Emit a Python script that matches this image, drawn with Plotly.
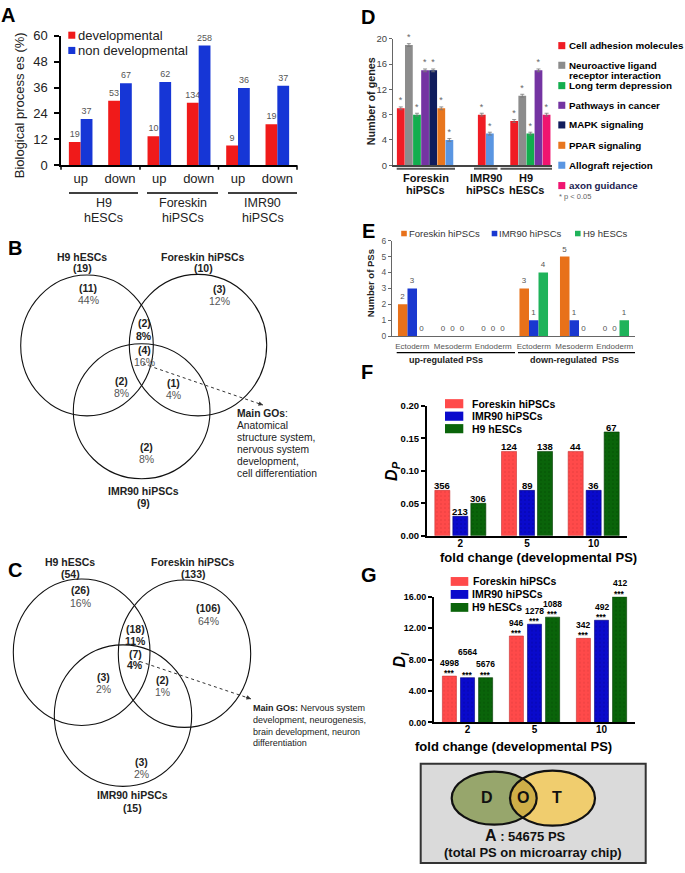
import numpy as np
import plotly.graph_objects as go

W, H = 685, 873
FONT = "Liberation Sans, Arial, Helvetica, sans-serif"

# ======================= DATA =======================
# Panel A
A_cells = ["H9 hESCs", "Foreskin hiPSCs", "IMR90 hiPSCs"]
A_dirs = ["up", "down"]
A_series = ["developmental", "non developmental"]
A_dev_pct = [10.8, 29.9, 13.4, 29.0, 9.1, 19.0]
A_nondev_pct = [21.4, 38.0, 38.6, 55.5, 35.8, 36.8]
A_dev_n = [19, 53, 10, 134, 9, 19]
A_nondev_n = [37, 67, 62, 258, 36, 37]
A_yticks = [0, 12, 24, 36, 48, 60]

# Panel D
D_groups = ["Foreskin hiPSCs", "IMR90 hiPSCs", "H9 hESCs"]
D_pathways = ["Cell adhesion molecules", "Neuroactive ligand receptor interaction",
              "Long term depression", "Pathways in cancer", "MAPK signaling",
              "PPAR signaling", "Allograft rejection", "axon guidance"]
D_genes = [
    [9, 8, 7],
    [19, None, 11],
    [8, None, 5],
    [15, None, 15],
    [15, None, None],
    [9, None, None],
    [4, 5, None],
    [None, None, 8],
]
D_yticks = [0, 4, 8, 12, 16, 20]
D_note = "* p < 0.05"

# Panel E
E_regulation = ["up-regulated PSs", "down-regulated  PSs"]
E_layers = ["Ectoderm", "Mesoderm", "Endoderm"]
E_series = ["Foreskin hiPSCs", "IMR90 hiPSCs", "H9 hESCs"]
E_counts = [
    [2, 0, 0, 3, 5, 0],
    [3, 0, 0, 1, 1, 0],
    [0, 0, 0, 4, 0, 1],
]
E_yticks = [0, 1, 2, 3, 4, 5, 6]

# Panels F and G
FG_series = ["Foreskin hiPSCs", "IMR90 hiPSCs", "H9 hESCs"]
FG_fold = ["2", "5", "10"]
F_dp = [[0.07, 0.13, 0.13], [0.03, 0.07, 0.07], [0.05, 0.13, 0.16]]
F_n = [[356, 124, 44], [213, 89, 36], [306, 138, 67]]
F_yticks = [0.0, 0.05, 0.10, 0.15, 0.20]
G_di = [[5.9, 11.0, 10.7], [5.7, 12.5, 13.0], [5.7, 13.4, 16.0]]
G_n = [[4998, 946, 342], [6564, 1278, 492], [5676, 1088, 412]]
G_sig = "***"
G_yticks = [0, 4, 8, 12, 16]
FG_xtitle = "fold change (developmental PS)"

# Venn B / C
V_sets = ["H9 hESCs", "Foreskin hiPSCs", "IMR90 hiPSCs"]
B_totals = [19, 10, 9]
B_counts = [11, 3, 2, 4, 2, 1, 2]
B_pcts = [44, 12, 8, 16, 8, 4, 8]
B_gos = ["<b>Main GOs</b>:", "Anatomical", "structure system,", "nervous system",
         "development,", "cell differentiation"]
C_totals = [54, 133, 15]
C_counts = [26, 106, 18, 7, 3, 2, 3]
C_pcts = [16, 64, 11, 4, 2, 1, 2]
C_gos = ["<b>Main GOs:</b> Nervous system", "development, neurogenesis,",
         "brain development, neuron", "differentiation"]

# Box
BOX_letters = ["D", "O", "T"]
BOX_total = "54675 PS"
BOX_note = "(total PS on microarray chip)"

# ======================= STYLE =======================
A_colors = ["#f01a1a", "#1636d6"]
D_colors = ["#f01c24", "#8c8c8c", "#12ae4e", "#7434a2", "#101c5c",
            "#e8761e", "#5a96e2", "#f01470"]
E_colors = ["#e8711a", "#1a38d0", "#1fb35a"]
FG_colors = ["#ff4a4a", "#0a0acc", "#0a640a"]
FG_dots = ["#c83030", "#00007a", "#003a00"]
G_label_lift = [[0, 0, 0], [12, 0, 0], [0, 0, 0]]   # px, label placement only


def X(px):
    return px / W


def Y(py):
    return 1 - py / H


shapes = []
annotations = []


def txt(x, y, s, size, color="#000", bold=False, xanchor="center",
        yanchor="middle", angle=0):
    if bold:
        s = f"<b>{s}</b>"
    annotations.append(dict(x=X(x), y=Y(y), xref="paper", yref="paper", text=s,
                            showarrow=False, textangle=angle,
                            font=dict(size=size, color=color, family=FONT),
                            xanchor=xanchor, yanchor=yanchor, borderpad=0))


def line(x0, y0, x1, y1, color="#000", width=1.0, dash=None):
    d = dict(type="line", xref="paper", yref="paper", x0=X(x0), y0=Y(y0),
             x1=X(x1), y1=Y(y1), line=dict(color=color, width=width))
    if dash:
        d["line"]["dash"] = dash
    shapes.append(d)


def rect(x0, y0, x1, y1, fill, lc=None, lw=0):
    shapes.append(dict(type="rect", xref="paper", yref="paper", x0=X(x0), y0=Y(y1),
                       x1=X(x1), y1=Y(y0), fillcolor=fill,
                       line=dict(color=lc or fill, width=lw)))


def oval(x0, y0, x1, y1, fill="rgba(0,0,0,0)", lc="#000", lw=1.0):
    shapes.append(dict(type="circle", xref="paper", yref="paper", x0=X(x0), y0=Y(y1),
                       x1=X(x1), y1=Y(y0), fillcolor=fill,
                       line=dict(color=lc, width=lw)))


def bar_label(xa, ya, cat_index, val, text, xshift, yshift, size):
    # on a category axis, annotation x is the category's serial number
    annotations.append(dict(x=cat_index, y=val, xref=xa, yref=ya, text=f"<b>{text}</b>",
                            showarrow=False, xshift=xshift, yshift=yshift,
                            xanchor="center", yanchor="middle", borderpad=0,
                            font=dict(size=size, color="#000", family=FONT)))


fig = go.Figure()

# ======================= PANEL A =======================
A_ids = [f"{c}|{d}" for c in A_cells for d in A_dirs]
A_tt = [d for c in A_cells for d in A_dirs]
for name, vals, ns, col, off in zip(A_series, [A_dev_pct, A_nondev_pct],
                                    [A_dev_n, A_nondev_n], A_colors, [-0.3, 0.0]):
    fig.add_trace(go.Bar(x=A_ids, y=vals, name=name, width=0.3, offset=off,
                         marker=dict(color=col, line=dict(width=0)),
                         text=[str(n) for n in ns], textposition="outside",
                         textfont=dict(size=9, color="#555", family=FONT),
                         constraintext="none", cliponaxis=False,
                         xaxis="x", yaxis="y", showlegend=False))

# ======================= PANEL D =======================
D_cats = []
gaps = [3, 2, 0]
for gi, g in enumerate(D_groups):
    for pi, p in enumerate(D_pathways):
        if D_genes[pi][gi] is not None:
            D_cats.append(f"{g}|{p}")
    for k in range(gaps[gi]):
        D_cats.append(f"gap{gi}{k}")
for pi, p in enumerate(D_pathways):
    xs = [f"{g}|{p}" for gi, g in enumerate(D_groups) if D_genes[pi][gi] is not None]
    ys = [v for v in D_genes[pi] if v is not None]
    fig.add_trace(go.Bar(x=xs, y=ys, name=p, width=0.96, offset=-0.48,
                         marker=dict(color=D_colors[pi], line=dict(width=0)),
                         error_y=dict(type="constant", value=0.22, color="#777",
                                      thickness=0.8, width=2),
                         text=["*"] * len(ys), textposition="outside",
                         textfont=dict(size=9, color="#666", family=FONT),
                         constraintext="none", cliponaxis=False,
                         xaxis="x2", yaxis="y2", showlegend=False))

# ======================= PANEL E =======================
E_ids = [f"{r}|{l}" for r in E_regulation for l in E_layers]
E_tt = [l for r in E_regulation for l in E_layers]
for si, s in enumerate(E_series):
    fig.add_trace(go.Bar(x=E_ids, y=E_counts[si], name=s, width=0.235,
                         offset=-0.3525 + 0.235 * si,
                         marker=dict(color=E_colors[si], line=dict(width=0)),
                         text=[str(v) for v in E_counts[si]], textposition="outside",
                         textfont=dict(size=8, color="#555", family=FONT),
                         constraintext="none", cliponaxis=False,
                         xaxis="x3", yaxis="y3", showlegend=False))

# ======================= PANEL F =======================
F_catpx = (627 - 427) / 3
for si, s in enumerate(FG_series):
    fig.add_trace(go.Bar(x=FG_fold, y=F_dp[si], name=s, width=0.225,
                         offset=-0.3825 + 0.27 * si,
                         marker=dict(color=FG_colors[si], line=dict(width=0.6, color=FG_dots[si]),
                                     pattern=dict(shape=".", size=4, solidity=0.12,
                                                  fgcolor=FG_dots[si], fillmode="overlay")),
                         xaxis="x4", yaxis="y4", showlegend=False))
    for ci in range(len(FG_fold)):
        bar_label("x4", "y4", ci, F_dp[si][ci], F_n[si][ci],
                  (-0.27 + 0.27 * si) * F_catpx, 4.5, 9.5)

# ======================= PANEL G =======================
G_catpx = (635 - 434) / 3
for si, s in enumerate(FG_series):
    fig.add_trace(go.Bar(x=FG_fold, y=G_di[si], name=s, width=0.21,
                         offset=-0.375 + 0.27 * si,
                         marker=dict(color=FG_colors[si], line=dict(width=0.6, color=FG_dots[si]),
                                     pattern=dict(shape=".", size=4, solidity=0.12,
                                                  fgcolor=FG_dots[si], fillmode="overlay")),
                         xaxis="x5", yaxis="y5", showlegend=False))
    for ci in range(len(FG_fold)):
        xs_ = (-0.27 + 0.27 * si) * G_catpx
        bar_label("x5", "y5", ci, G_di[si][ci], G_sig, xs_, 3, 8.5)
        bar_label("x5", "y5", ci, G_di[si][ci], G_n[si][ci], xs_,
                  13.5 + G_label_lift[si][ci], 8.5)

# ======================= DECORATIONS =======================
# panel letters
for L, (lx, ly) in zip("ABCDEFG", [(8, 8), (15, 245), (15, 573), (368, 10),
                                   (368, 228), (367, 371), (369, 578)]):
    txt(lx, ly, L, 20, bold=True)

# ---- A
txt(19, 100, "Biological process es (%)", 13, color="#222", angle=-90)
for (x0, x1), c in zip([(69, 138), (147, 218), (228, 297)], A_cells):
    line(x0, 189.3, x1, 189.3, width=1.6)
    a, b = c.split(" ")
    txt((x0 + x1) / 2, 199.6, a, 12.5, color="#222")
    txt((x0 + x1) / 2, 214.6, b, 12.5, color="#222")
for tx in [61, 140, 218.5, 297]:
    line(tx, 161, tx, 165.5, width=1.5)
for i, (s, c) in enumerate(zip(A_series, A_colors)):
    yy = 28.7 + 15.5 * i
    rect(68.3, yy - 3.6, 75.3, yy + 3.6, c)
    txt(77, yy, s, 13, color="#222", xanchor="left")

# ---- D
txt(371, 96, "Number of genes", 10.8, color="#222", bold=True, angle=-90)
for (x0, x1), g in zip([(396.7, 455), (474, 497.5), (500.5, 552)], D_groups):
    line(x0, 164.5, x1, 164.5, color="#555", width=2)
    a, b = g.split(" ")
    txt((x0 + x1) / 2, 173.5, a, 11, color="#111", bold=True)
    txt((x0 + x1) / 2, 186, b, 11, color="#111", bold=True)
legy = [39.3, 59.3, 80, 100, 120, 140.7, 161, 181.7]
for p, c, yy in zip(D_pathways, D_colors, legy):
    rect(558.3, yy - 3.6, 565.3, yy + 3.6, c)
    if p.startswith("Neuroactive"):
        txt(567.5, yy, "Neuroactive ligand", 9.8, bold=True, xanchor="left")
        txt(567.5, yy + 10.7, "receptor interaction", 9.8, bold=True, xanchor="left")
    else:
        txt(567.5, yy, p, 9.8, bold=True, xanchor="left",
            color="#1c1c50" if p == "axon guidance" else "#000")
txt(558, 193, D_note, 7.5, color="#666", xanchor="left")

# ---- E
txt(370, 281, "Number of PSs", 9.5, color="#222", bold=True, angle=-90)
for s, c, (sx, tx) in zip(E_series, E_colors, [(401.2, 408.3), (491.7, 498.3), (575, 581.7)]):
    rect(sx, 227.7, sx + 5.6, 233.3, c)
    txt(tx, 230.7, s, 9.5, color="#333", xanchor="left")
for (x0, x1), r in zip([(396.7, 515), (518, 635)], E_regulation):
    line(x0, 351.7, x1, 351.7, width=1.4)
    txt((x0 + x1) / 2 - 10 if r.startswith("up") else (x0 + x1) / 2 - 2.5, 359.5, r, 9,
        color="#222", bold=True)

# ---- F
txt(392.5, 472.5, "<b><i>D</i></b><sub><b><i>P</i></b></sub>", 16, angle=-90)
for si, (s, c) in enumerate(zip(FG_series, FG_colors)):
    y0 = 399 + 12.7 * si
    rect(445, y0, 463.3, y0 + 9.3, c)
    txt(470.7, y0 + 4.7, s, 10.5, bold=True, xanchor="left")
txt(538, 560, FG_xtitle, 13, bold=True)

# ---- G
txt(400.8, 664, "<b><i>D</i></b><sub><b><i>I</i></b></sub>", 16, angle=-90)
for si, (s, c) in enumerate(zip(FG_series, FG_colors)):
    y0 = 580 + 13.2 * si
    rect(450.7, y0, 468.3, y0 + 9, c)
    txt(471.5, y0 + 4.5, s, 10.5, bold=True, xanchor="left")
txt(513, 752, FG_xtitle, 13, bold=True)


# ---- Venn diagrams
def venn(circles, set_pos, totals, reg_pos, counts, pcts, pct_bold, arrow, gos, gos_x,
         gos_y, gos_size):
    for c in circles:
        oval(*c, lc="#111", lw=1.1)
    for (x, y1, y2), nm, t in zip(set_pos, V_sets, totals):
        txt(x, y1, nm, 10.5, color="#222", bold=True)
        txt(x, y2, f"({t})", 10.5, color="#222", bold=True)
    for (x, y1, y2), n, p, pb in zip(reg_pos, counts, pcts, pct_bold):
        txt(x, y1, f"({n})", 10.5, color="#222", bold=True)
        txt(x, y2, f"{p}%", 10.5, color="#222" if pb else "#555", bold=pb)
    (ax0, ay0), (ax1, ay1) = arrow
    line(ax0, ay0, ax1, ay1, color="#333", width=1, dash="dot")
    d = np.hypot(ax1 - ax0, ay1 - ay0)
    annotations.append(dict(x=X(ax1), y=Y(ay1), xref="paper", yref="paper", text="",
                            showarrow=True, arrowhead=2, arrowsize=0.9, arrowwidth=1,
                            arrowcolor="#333", ax=-(ax1 - ax0) / d * 7,
                            ay=-(ay1 - ay0) / d * 7))
    for gtxt, gy in zip(gos, gos_y):
        txt(gos_x, gy, gtxt, gos_size, color="#222", xanchor="left")


venn([(20.7, 272.7, 153.3, 416), (129.3, 272, 266.7, 416), (73.3, 342.7, 210, 480)],
     [(82, 254, 266), (203, 254, 266), (143, 492.5, 505)], B_totals,
     [(88, 286, 298), (219, 287, 299), (144, 322, 335), (144, 349.5, 361),
      (121, 381, 392.5), (174, 383, 395), (146, 448, 460)],
     B_counts, B_pcts, [False, False, True, False, False, False, False],
     [(143, 363), (263, 405)], B_gos, 236, [413.3, 426, 438.3, 450.7, 462.7, 475], 10.3)

venn([(13.3, 582, 150, 731), (118.3, 583, 250.7, 733), (54.3, 649, 191.7, 793)],
     [(70, 565, 577), (193, 565, 577), (132, 802, 815)], C_totals,
     [(80, 593, 606), (208, 612, 625), (135, 633, 645), (135, 658, 670),
      (103, 682, 694), (162, 685, 697), (141, 768, 780)],
     C_counts, C_pcts, [False, False, True, True, False, False, False],
     [(140, 666), (251, 704)], C_gos, 251.7, [713, 725.7, 737.7, 749.3], 9)

# ---- D/O/T box
rect(420.7, 770, 645.7, 871, "#dadada", lc="#333", lw=2)
eD = (494.2, 805, 42.5, 27)
eT = (552.5, 805, 42.5, 28)
oval(eD[0] - eD[2], eD[1] - eD[3], eD[0] + eD[2], eD[1] + eD[3], fill="#97a66c", lw=0, lc="rgba(0,0,0,0)")
oval(eT[0] - eT[2], eT[1] - eT[3], eT[0] + eT[2], eT[1] + eT[3], fill="#f0cd6e", lw=0, lc="rgba(0,0,0,0)")


def inside(e, x, y):
    return ((x - e[0]) / e[2]) ** 2 + ((y - e[1]) / e[3]) ** 2 <= 1.0


t1 = np.linspace(-np.pi / 2, np.pi / 2, 240)
p1x, p1y = eD[0] + eD[2] * np.cos(t1), eD[1] + eD[3] * np.sin(t1)
m1 = inside(eT, p1x, p1y)
t2 = np.linspace(np.pi / 2, 3 * np.pi / 2, 240)
p2x, p2y = eT[0] + eT[2] * np.cos(t2), eT[1] + eT[3] * np.sin(t2)
m2 = inside(eD, p2x, p2y)
pts = list(zip(p1x[m1], p1y[m1])) + list(zip(p2x[m2], p2y[m2]))
path = "M " + " L ".join(f"{X(px):.5f},{Y(py):.5f}" for px, py in pts) + " Z"
shapes.append(dict(type="path", xref="paper", yref="paper", path=path,
                   fillcolor="#cfae48", line=dict(width=0)))
oval(eD[0] - eD[2], eD[1] - eD[3], eD[0] + eD[2], eD[1] + eD[3], lc="#111", lw=2.2)
oval(eT[0] - eT[2], eT[1] - eT[3], eT[0] + eT[2], eT[1] + eT[3], lc="#111", lw=2.2)
for L, lx in zip(BOX_letters, [487.3, 523.3, 556.7]):
    txt(lx, 804.5, L, 16, bold=True, color="#111")
txt(525.7, 843.3, f"<span style='font-size:16px'>A</span> : {BOX_total}", 13, bold=True, color="#111")
txt(533.3, 860, BOX_note, 13, bold=True, color="#111")

# ======================= LAYOUT =======================
base = dict(showgrid=False, zeroline=False, fixedrange=True)
fig.update_layout(
    width=W, height=H, autosize=False,
    margin=dict(l=0, r=0, t=0, b=0),
    paper_bgcolor="white", plot_bgcolor="white",
    font=dict(family=FONT, color="#222"),
    barmode="overlay", showlegend=False,
    xaxis=dict(base, domain=[X(61), X(297)], anchor="y", type="category",
               categoryorder="array", categoryarray=A_ids, tickvals=A_ids, ticktext=A_tt,
               range=[-0.5, 5.5], showline=True, linecolor="#000", linewidth=2, ticks="",
               tickfont=dict(size=13, color="#222", family=FONT), ticklabelstandoff=0),
    yaxis=dict(base, domain=[Y(161), Y(29.3)], anchor="x", range=[0, 60], tickvals=A_yticks,
               showline=True, linecolor="#000", linewidth=1.5, ticks="outside", ticklen=5,
               tickwidth=1.5, tickcolor="#000",
               tickfont=dict(size=13, color="#222", family=FONT), ticklabelstandoff=4),
    xaxis2=dict(base, domain=[X(393), X(552)], anchor="y2", type="category",
                categoryorder="array", categoryarray=D_cats, range=[-0.96, 18.67],
                showticklabels=False, ticks="", showline=True, linecolor="#444", linewidth=1.5),
    yaxis2=dict(base, domain=[Y(161), Y(32.3)], anchor="x2", range=[0, 20], tickvals=D_yticks,
                showline=True, linecolor="#666", linewidth=1, ticks="outside", ticklen=3,
                tickcolor="#666", tickfont=dict(size=9.5, color="#444", family=FONT)),
    xaxis3=dict(base, domain=[X(392), X(635)], anchor="y3", type="category",
                categoryorder="array", categoryarray=E_ids, tickvals=E_ids, ticktext=E_tt,
                range=[-0.5, 5.5], showline=True, linecolor="#666", linewidth=1, ticks="",
                tickfont=dict(size=8, color="#555", family=FONT), ticklabelstandoff=2),
    yaxis3=dict(base, domain=[Y(335), Y(237.7)], anchor="x3", range=[0, 6], tickvals=E_yticks,
                showline=True, linecolor="#666", linewidth=1, ticks="outside", ticklen=3,
                tickcolor="#666", tickfont=dict(size=8.5, color="#555", family=FONT)),
    xaxis4=dict(base, domain=[X(427), X(627)], anchor="y4", type="category",
                categoryorder="array", categoryarray=FG_fold, range=[-0.5, 2.5],
                showline=True, linecolor="#000", linewidth=2, ticks="",
                tickfont=dict(size=10, color="#000", family=FONT, weight="bold"),
                ticklabelstandoff=-3),
    yaxis4=dict(base, domain=[Y(538), Y(406)], anchor="x4", range=[0, 0.2], tickvals=F_yticks,
                tickformat=".2f", showline=True, linecolor="#000", linewidth=2,
                ticks="outside", ticklen=4, tickwidth=2, tickcolor="#000",
                tickfont=dict(size=9.5, color="#000", family=FONT, weight="bold"),
                ticklabelstandoff=0),
    xaxis5=dict(base, domain=[X(434), X(635)], anchor="y5", type="category",
                categoryorder="array", categoryarray=FG_fold, range=[-0.5, 2.5],
                showline=True, linecolor="#000", linewidth=2, ticks="",
                tickfont=dict(size=10, color="#000", family=FONT, weight="bold"),
                ticklabelstandoff=-3),
    yaxis5=dict(base, domain=[Y(728), Y(600)], anchor="x5", range=[0, 16], tickvals=G_yticks,
                tickformat=".2f", showline=True, linecolor="#000", linewidth=2,
                ticks="outside", ticklen=4, tickwidth=2, tickcolor="#000",
                tickfont=dict(size=9, color="#000", family=FONT, weight="bold"),
                ticklabelstandoff=0),
    shapes=shapes,
    annotations=annotations,
)

fig.write_html("out.html", config={"displayModeBar": False},
               post_script="document.body.style.margin='0px';")
